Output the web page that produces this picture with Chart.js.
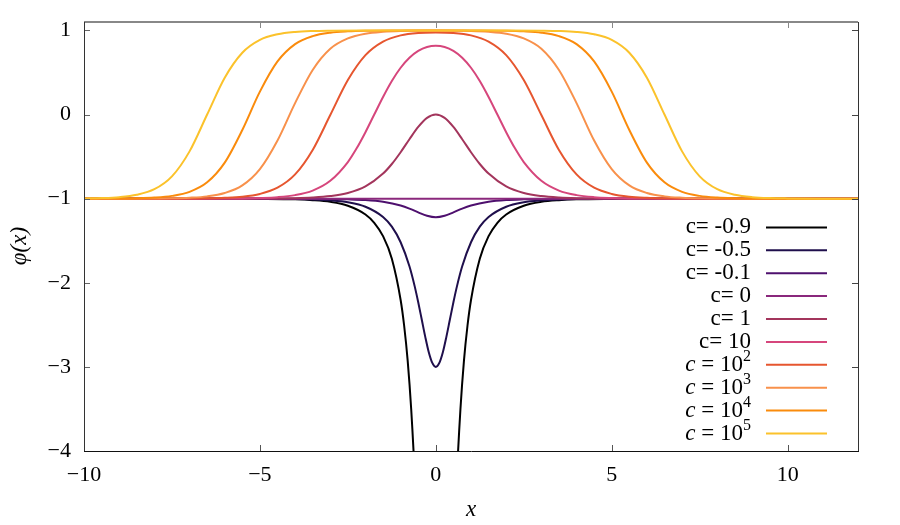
<!DOCTYPE html>
<html>
<head>
<meta charset="utf-8">
<script src="https://cdn.jsdelivr.net/npm/chart.js@4.4.1/dist/chart.umd.min.js"></script>
<style>
  html, body { margin: 0; padding: 0; background: #ffffff; }
  #wrap { width: 900px; height: 525px; }
</style>
</head>
<body>
<div id="wrap"><canvas id="c" width="900" height="525"></canvas></div>
<script>
// ---------- data ----------
const seriesLabels = ['c= -0.9', 'c= -0.5', 'c= -0.1', 'c= 0', 'c= 1', 'c= 10', 'c = 10²', 'c = 10³', 'c = 10⁴', 'c = 10⁵'];
const seriesColors = ['#000000', '#1f0f4c', '#4e106e', '#8a287c', '#a3355c', '#d6467c', '#e6562f', '#f8914b', '#fa8b0c', '#fbc22b'];

const xTicks = [-10, -5, 0, 5, 10];
const xTickLabels = ['−10', '−5', '0', '5', '10'];
const yTicks = [-4, -3, -2, -1, 0, 1];
const yTickLabels = ['−4', '−3', '−2', '−1', '0', '1'];

// c = -0.9
const xM09 = [-10, -6, -5, -4, -3.5, -3, -2.5, -2, -1.75, -1.5, -1.25, -1, -0.9, -0.8, -0.7, -0.6, -0.5, -0.4, -0.3, 0,
              0.3, 0.4, 0.5, 0.6, 0.7, 0.8, 0.9, 1, 1.25, 1.5, 1.75, 2, 2.5, 3, 3.5, 4, 5, 6, 12];
const yM09 = [-1, -1, -1.002, -1.008, -1.018, -1.038, -1.084, -1.188, -1.287, -1.446, -1.714, -2.205, -2.511, -2.925, -3.50, -4.30, -5.47, -7.19, -9.75, -19,
              -9.75, -7.19, -5.47, -4.30, -3.50, -2.925, -2.511, -2.205, -1.714, -1.446, -1.287, -1.188, -1.084, -1.038, -1.018, -1.008, -1.002, -1, -1];
// c = -0.5
const xM05 = [-10, -6, -5, -4, -3.5, -3, -2.5, -2, -1.5, -1.25, -1, -0.75, -0.6, -0.5, -0.4, -0.3, -0.2, -0.1, 0,
              0.1, 0.2, 0.3, 0.4, 0.5, 0.6, 0.75, 1, 1.25, 1.5, 2, 2.5, 3, 3.5, 4, 5, 6, 12];
const yM05 = [-1, -1, -1.001, -1.004, -1.009, -1.020, -1.043, -1.096, -1.218, -1.333, -1.518, -1.804, -2.043, -2.232, -2.437, -2.643, -2.826, -2.953, -3.0,
              -2.953, -2.826, -2.643, -2.437, -2.232, -2.043, -1.804, -1.518, -1.333, -1.218, -1.096, -1.043, -1.020, -1.009, -1.004, -1.001, -1, -1];
// c = -0.1
const xM01 = [-10, -6, -5, -4, -3, -2.5, -2, -1.5, -1, -0.75, -0.5, -0.25, 0, 0.25, 0.5, 0.75, 1, 1.5, 2, 2.5, 3, 4, 5, 6, 12];
const yM01 = [-1, -1, -1, -1.001, -1.003, -1.008, -1.017, -1.038, -1.082, -1.118, -1.163, -1.204, -1.222,
              -1.204, -1.163, -1.118, -1.082, -1.038, -1.017, -1.008, -1.003, -1.001, -1, -1, -1];
// c = 0
const xC0 = [-10, 12];
const yC0 = [-1, -1];
// c = 1
const xC1 = [-10, -7, -6, -5, -4, -3.5, -3, -2.5, -2, -1.5, -1.25, -1, -0.75, -0.5, -0.25, 0,
             0.25, 0.5, 0.75, 1, 1.25, 1.5, 2, 2.5, 3, 3.5, 4, 5, 6, 7, 12];
const yC1 = [-1, -1, -1, -0.999, -0.994, -0.986, -0.969, -0.933, -0.855, -0.702, -0.588, -0.448, -0.294, -0.148, -0.040, 0,
             -0.040, -0.148, -0.294, -0.448, -0.588, -0.702, -0.855, -0.933, -0.969, -0.986, -0.994, -0.999, -1, -1, -1];
// c = 10
const xC10 = [-10, -8, -7, -6, -5.5, -5, -4.5, -4, -3.5, -3, -2.5, -2.25, -2, -1.75, -1.5, -1.25, -1, -0.75, -0.5, -0.25, 0,
              0.25, 0.5, 0.75, 1, 1.25, 1.5, 1.75, 2, 2.25, 2.5, 3, 3.5, 4, 4.5, 5, 5.5, 6, 7, 8, 12];
const yC10 = [-1, -1, -1, -0.999, -0.997, -0.992, -0.982, -0.958, -0.904, -0.788, -0.565, -0.402, -0.210, 0.000, 0.209, 0.399, 0.556, 0.675, 0.756, 0.803, 0.818,
              0.803, 0.756, 0.675, 0.556, 0.399, 0.209, 0.000, -0.210, -0.402, -0.565, -0.788, -0.904, -0.958, -0.982, -0.992, -0.997, -0.999, -1, -1, -1];
// c = 10^2
const xC100 = [-10, -8, -7, -6.5, -6, -5.5, -5, -4.5, -4, -3.5, -3, -2.5, -2, -1.5, -1, -0.5, 0,
               0.5, 1, 1.5, 2, 2.5, 3, 3.5, 4, 4.5, 5, 5.5, 6, 6.5, 7, 8, 10, 12];
const yC100 = [-1, -1, -0.998, -0.996, -0.990, -0.977, -0.944, -0.870, -0.712, -0.421, -0.006, 0.410, 0.706, 0.867, 0.941, 0.970, 0.976,
               0.970, 0.941, 0.867, 0.706, 0.410, -0.006, -0.421, -0.712, -0.870, -0.944, -0.977, -0.990, -0.996, -0.998, -1, -1, -1];
// c = 10^3
const xC1e3 = [-10, -9, -8, -7.5, -7, -6.5, -6, -5.5, -5, -4.5, -4, -3.5, -3, -2.5, -2, -1.5, -1, 0,
               1, 1.5, 2, 2.5, 3, 3.5, 4, 4.5, 5, 5.5, 6, 6.5, 7, 7.5, 8, 9, 10, 12];
const yC1e3 = [-1, -1, -0.998, -0.996, -0.989, -0.973, -0.933, -0.843, -0.649, -0.309, 0.136, 0.530, 0.782, 0.905, 0.961, 0.984, 0.994, 0.998,
               0.994, 0.984, 0.961, 0.905, 0.782, 0.530, 0.136, -0.309, -0.649, -0.843, -0.933, -0.973, -0.989, -0.996, -0.998, -1, -1, -1];
// c = 10^4
const xC1e4 = [-10, -9, -8.5, -8, -7.5, -7, -6.5, -6, -5.5, -5, -4.5, -4, -3.5, -3, -2.5, -2, -1, 0,
               1, 2, 2.5, 3, 3.5, 4, 4.5, 5, 5.5, 6, 6.5, 7, 7.5, 8, 8.5, 9, 10, 12];
const yC1e4 = [-1, -0.998, -0.995, -0.987, -0.967, -0.919, -0.806, -0.572, -0.184, 0.272, 0.631, 0.837, 0.932, 0.973, 0.989, 0.996, 0.999, 1.0,
               0.999, 0.996, 0.989, 0.973, 0.932, 0.837, 0.631, 0.272, -0.184, -0.572, -0.806, -0.919, -0.967, -0.987, -0.995, -0.998, -1, -1];
// c = 10^5
const xC1e5 = [-10, -9.5, -9, -8.5, -8, -7.5, -7, -6.5, -6, -5.5, -5, -4.5, -4, -3.5, -3, -2, 0,
               2, 3, 3.5, 4, 4.5, 5, 5.5, 6, 6.5, 7, 7.5, 8, 8.5, 9, 9.5, 10, 11, 12];
const yC1e5 = [-0.997, -0.993, -0.982, -0.954, -0.888, -0.735, -0.438, 0, 0.438, 0.735, 0.888, 0.954, 0.982, 0.993, 0.997, 1.0, 1.0,
               1.0, 0.997, 0.993, 0.982, 0.954, 0.888, 0.735, 0.438, 0, -0.438, -0.735, -0.888, -0.954, -0.982, -0.993, -0.997, -1, -1];

const seriesX = [xM09, xM05, xM01, xC0, xC1, xC10, xC100, xC1e3, xC1e4, xC1e5];
const seriesY = [yM09, yM05, yM01, yC0, yC1, yC10, yC100, yC1e3, yC1e4, yC1e5];

// ---------- chart ----------
const SERIF = "'Liberation Serif', 'DejaVu Serif', serif";

const datasets = seriesLabels.map((lab, i) => ({
  label: lab,
  data: seriesX[i].map((xv, j) => ({ x: xv, y: seriesY[i][j] })),
  borderColor: seriesColors[i],
  backgroundColor: seriesColors[i],
  borderWidth: 2,
  pointRadius: 0,
  fill: false,
  cubicInterpolationMode: 'monotone',
  order: -i
}));

const supMap = { '²': '2', '³': '3', '⁴': '4', '⁵': '5' };

function drawLegendLabel(ctx, label, xRight, yMid) {
  const segs = [];
  const m = label.match(/^c = 10([²³⁴⁵])$/);
  if (m) {
    segs.push({ t: 'c', f: 'italic 23px ' + SERIF, dy: 0 });
    segs.push({ t: ' = 10', f: '23px ' + SERIF, dy: 0 });
    segs.push({ t: supMap[m[1]], f: '16px ' + SERIF, dy: -8 });
  } else {
    segs.push({ t: label, f: '23px ' + SERIF, dy: 0 });
  }
  let total = 0;
  segs.forEach(s => { ctx.font = s.f; s.w = ctx.measureText(s.t).width; total += s.w; });
  let xx = xRight - total;
  ctx.textAlign = 'left';
  ctx.textBaseline = 'middle';
  ctx.fillStyle = '#000';
  segs.forEach(s => { ctx.font = s.f; ctx.fillText(s.t, xx, yMid + s.dy); xx += s.w; });
}

const framePlugin = {
  id: 'frame',
  afterDraw(chart) {
    const { ctx, chartArea: a, scales } = chart;
    const xs = scales.x, ys = scales.y;
    ctx.save();
    const seg = (x1, y1, x2, y2) => { ctx.beginPath(); ctx.moveTo(x1, y1); ctx.lineTo(x2, y2); ctx.stroke(); };
    ctx.lineWidth = 1;
    xTicks.forEach(v => {
      const px = Math.round(xs.getPixelForValue(v)) + 0.5;
      ctx.strokeStyle = '#555'; seg(px, a.bottom, px, a.bottom - 6);
      ctx.strokeStyle = '#888'; seg(px, a.top, px, a.top + 6);
    });
    yTicks.forEach(v => {
      const py = Math.round(ys.getPixelForValue(v)) + 0.5;
      ctx.strokeStyle = '#666'; seg(a.left, py, a.left + 6, py);
      ctx.strokeStyle = '#444'; seg(a.right, py, a.right - 6, py);
    });
    // frame
    ctx.strokeStyle = '#888'; ctx.lineWidth = 2; seg(a.left, a.top, a.right, a.top);
    ctx.lineWidth = 1;
    ctx.strokeStyle = '#333'; seg(Math.round(a.right) + 0.5, a.top, Math.round(a.right) + 0.5, a.bottom);
    ctx.strokeStyle = '#333'; seg(Math.round(a.left) + 0.5, a.top, Math.round(a.left) + 0.5, a.bottom);
    ctx.strokeStyle = '#111'; seg(a.left, Math.round(a.bottom) + 0.5, a.right + 1, Math.round(a.bottom) + 0.5);

    // legend
    const n = seriesLabels.length;
    const lineEnd = a.right - 31, lineStart = lineEnd - 61, textRight = lineStart - 15;
    seriesLabels.forEach((lab, i) => {
      const yy = a.bottom - 17.5 - (n - 1 - i) * 22.9;
      ctx.strokeStyle = seriesColors[i];
      ctx.lineWidth = 2;
      seg(lineStart, yy, lineEnd, yy);
      drawLegendLabel(ctx, lab, textRight, yy);
    });

    // axis titles
    ctx.fillStyle = '#000';
    ctx.textAlign = 'center';
    ctx.textBaseline = 'middle';
    ctx.font = 'italic 23px ' + SERIF;
    ctx.fillText('x', (a.left + a.right) / 2, 510);
    ctx.save();
    ctx.translate(20, 246);
    ctx.rotate(-Math.PI / 2);
    ctx.fillText('φ(x)', 0, 0);
    ctx.restore();
    ctx.restore();
  }
};

new Chart(document.getElementById('c'), {
  type: 'line',
  data: { datasets },
  options: {
    responsive: false,
    animation: false,
    devicePixelRatio: 1,
    layout: { padding: { top: 22, right: 42, left: 0, bottom: 0 } },
    plugins: { legend: { display: false }, tooltip: { enabled: false } },
    elements: { line: { tension: 0 } },
    scales: {
      x: {
        type: 'linear', min: -10, max: 12,
        grid: { display: false, drawTicks: false },
        border: { display: false },
        afterFit(s) { s.height = 74; s.paddingLeft = 0; s.paddingRight = 0; },
        afterBuildTicks(s) { s.ticks = xTicks.map(v => ({ value: v })); },
        ticks: {
          autoSkip: false, maxRotation: 0, padding: 11, color: '#000',
          font: { family: SERIF, size: 22 },
          callback: (v) => { const k = xTicks.indexOf(v); return k >= 0 ? xTickLabels[k] : ''; }
        }
      },
      y: {
        type: 'linear', min: -4, max: 1.1,
        grid: { display: false, drawTicks: false },
        border: { display: false },
        afterFit(s) { s.width = 84; s.paddingTop = 0; s.paddingBottom = 0; },
        afterBuildTicks(s) { s.ticks = yTicks.map(v => ({ value: v })); },
        ticks: {
          autoSkip: false, padding: 13, color: '#000',
          font: { family: SERIF, size: 22 },
          callback: (v) => { const k = yTicks.indexOf(v); return k >= 0 ? yTickLabels[k] : ''; }
        }
      }
    }
  },
  plugins: [framePlugin]
});
</script>
</body>
</html>
